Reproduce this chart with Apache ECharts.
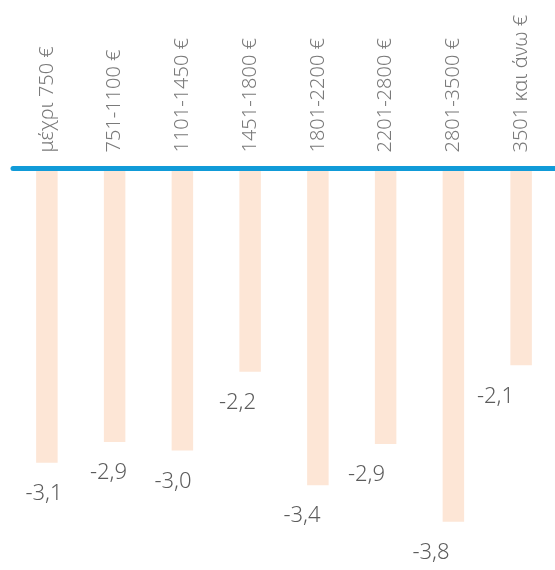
<!DOCTYPE html>
<html>
<head>
<meta charset="utf-8">
<script src="https://cdn.jsdelivr.net/npm/echarts@6/dist/echarts.min.js"></script>
<style>
html,body{margin:0;padding:0;background:#fff;}
#main{width:555px;height:570px;}
</style>
</head>
<body>
<div id="main"></div>
<script>
// data
var categories = ['μέχρι 750 €','751-1100 €','1101-1450 €','1451-1800 €','1801-2200 €','2201-2800 €','2801-3500 €','3501 και άνω €'];
var values = [-3.14, -2.92, -3.01, -2.17, -3.38, -2.94, -3.77, -2.10];

var myChart = echarts.init(document.getElementById('main'));

function fmt(v){
    return v.toFixed(1).replace('.', ',');
}

var option = {
    animation:false,
    grid:[{
        left:13,
        top:168.5,
        width:548,
        height:374.8
    },{
        left:11.75,
        top:168.5,
        width:516,
        height:374.8
    }],
    xAxis:[{
        type:'category',
        gridIndex:0,
        position:'top',
        data:categories,
        z:10,
        axisLine:{show:true,lineStyle:{color:'#119bd8',width:5}},
        axisTick:{show:false},
        axisLabel:{
            rotate:90,
            margin:16,
            color:'#7a7a7a',
            fontSize:20,
            fontFamily:'Noto Sans',
            fontWeight:300
        }
    },{
        type:'category',
        gridIndex:1,
        data:categories,
        show:false
    }],
    yAxis:[{
        type:'value',
        gridIndex:0,
        min:-4,
        max:0,
        show:false
    },{
        type:'value',
        gridIndex:1,
        min:-4,
        max:0,
        show:false
    }],
    series:[{
        type:'bar',
        xAxisIndex:0,
        yAxisIndex:0,
        data:values,
        barWidth:21.5,
        itemStyle:{color:'#fde6d6'}
    },{
        type:'scatter',
        xAxisIndex:1,
        yAxisIndex:1,
        data:values,
        symbolSize:0,
        label:{
            show:true,
            position:'inside',
            offset:[0,31],
            formatter:function(p){return fmt(p.value);},
            color:'#333',
            fontSize:22,
            fontFamily:'Noto Sans',
            fontWeight:300
        }
    }]
};

myChart.setOption(option);
</script>
</body>
</html>
